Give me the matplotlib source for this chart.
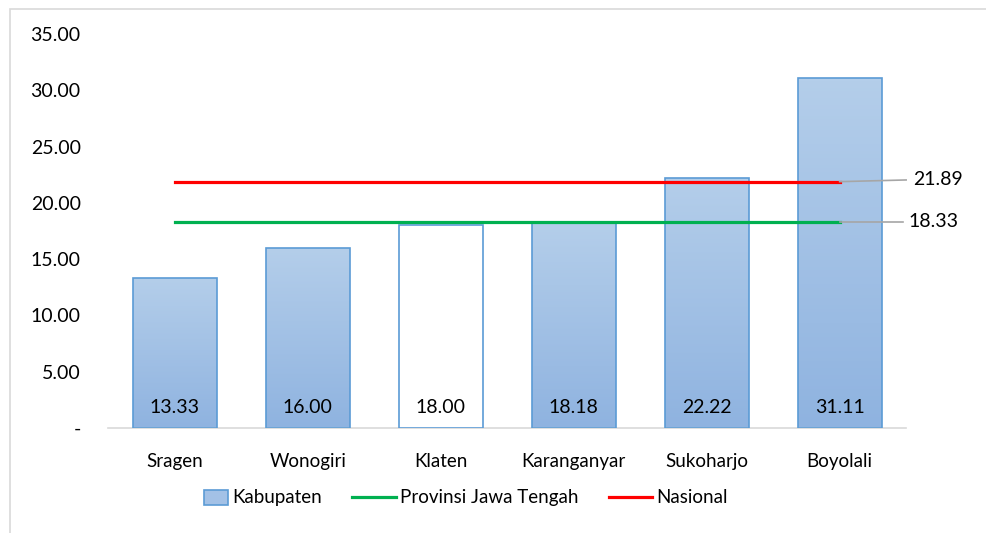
import numpy as np
import matplotlib.pyplot as plt
from matplotlib.patches import Rectangle, Patch
from matplotlib.lines import Line2D
from matplotlib.legend_handler import HandlerPatch
from matplotlib.colors import LinearSegmentedColormap

plt.rcParams['font.family'] = ['Lato', 'DejaVu Sans']

kabupaten = ['Sragen', 'Wonogiri', 'Klaten', 'Karanganyar', 'Sukoharjo', 'Boyolali']
nilai = [13.33, 16.00, 18.00, 18.18, 22.22, 31.11]
provinsi = 18.33
nasional = 21.89
yticks = [0, 5, 10, 15, 20, 25, 30, 35]

FS_NUM = 14
FS_TXT = 13.5

fig = plt.figure(figsize=(9.86, 5.33), dpi=100)
# chart area border
fig.patches.append(Rectangle((10 / 986, -0.1), 1.1, 1 - 9 / 533 + 0.1, transform=fig.transFigure,
                             fill=False, edgecolor='#D9D9D9', lw=1.2))

ax = fig.add_axes([0.110, 0.197, 0.809, 0.739])
x = np.arange(len(kabupaten))
bars = ax.bar(x, nilai, width=0.63, color='none', edgecolor='#5B9BD5', lw=1.2, zorder=3)

grad = LinearSegmentedColormap.from_list('kab', ['#8FB3E0', '#B4CEEA'])
for i, b in enumerate(bars):
    if kabupaten[i] == 'Klaten':
        b.set_facecolor('white')
        continue
    im = ax.imshow(np.linspace(0, 1, 100).reshape(-1, 1), cmap=grad, origin='lower', aspect='auto',
                   extent=[b.get_x(), b.get_x() + b.get_width(), 0, b.get_height()], zorder=2)
    im.set_clip_path(b)

for i, v in enumerate(nilai):
    ax.text(x[i], 1.85, f'{v:.2f}', ha='center', va='center', fontsize=FS_NUM, color='black', zorder=4)

ax.plot([x[0], x[-1]], [provinsi, provinsi], color='#00B050', lw=2.3, zorder=4)
ax.plot([x[0], x[-1]], [nasional, nasional], color='#FF0000', lw=2.3, zorder=4)

# leader lines to the reference values
ax.plot([x[-1], x[-1] + 0.48], [provinsi, provinsi], color='#A6A6A6', lw=1.2, clip_on=False, zorder=4)
ax.plot([x[-1], x[-1] + 0.5], [nasional, nasional + 0.15], color='#A6A6A6', lw=1.2, clip_on=False, zorder=4)
ax.text(x[-1] + 0.52, provinsi, f'{provinsi:.2f}', ha='left', va='center', fontsize=FS_NUM)
ax.text(x[-1] + 0.55, nasional + 0.15, f'{nasional:.2f}', ha='left', va='center', fontsize=FS_NUM)

ax.set_xlim(-0.5, len(kabupaten) - 0.5)
ax.set_ylim(0, 35)
ax.set_xticks(x)
ax.set_xticklabels(kabupaten, fontsize=FS_TXT)
ax.set_yticks(yticks)
ax.set_yticklabels(['-' if t == 0 else f'{t:.2f}' for t in yticks], fontsize=FS_NUM)
ax.tick_params(axis='both', length=0)
ax.tick_params(axis='x', pad=18)
ax.tick_params(axis='y', pad=20)
for s in ['top', 'right', 'left']:
    ax.spines[s].set_visible(False)
ax.spines['bottom'].set_color('#D9D9D9')
ax.spines['bottom'].set_linewidth(1.2)


def small_box(legend, orig_handle, xdescent, ydescent, width, height, fontsize):
    w = 0.55 * width
    return Rectangle((-xdescent + width - w, -ydescent - 0.15 * height), w, 1.2 * height)


handles = [Patch(facecolor='#A3C1E6', edgecolor='#5B9BD5', lw=1.2),
           Line2D([], [], color='#00B050', lw=2.3),
           Line2D([], [], color='#FF0000', lw=2.3)]
fig.legend(handles, ['Kabupaten', 'Provinsi Jawa Tengah', 'Nasional'], loc='center',
           bbox_to_anchor=(0.463, 0.066), ncol=3, frameon=False, fontsize=FS_TXT,
           handlelength=2.3, handletextpad=0.25, columnspacing=1.6,
           handler_map={Patch: HandlerPatch(patch_func=small_box)})

fig.savefig('out.png', dpi=100)
